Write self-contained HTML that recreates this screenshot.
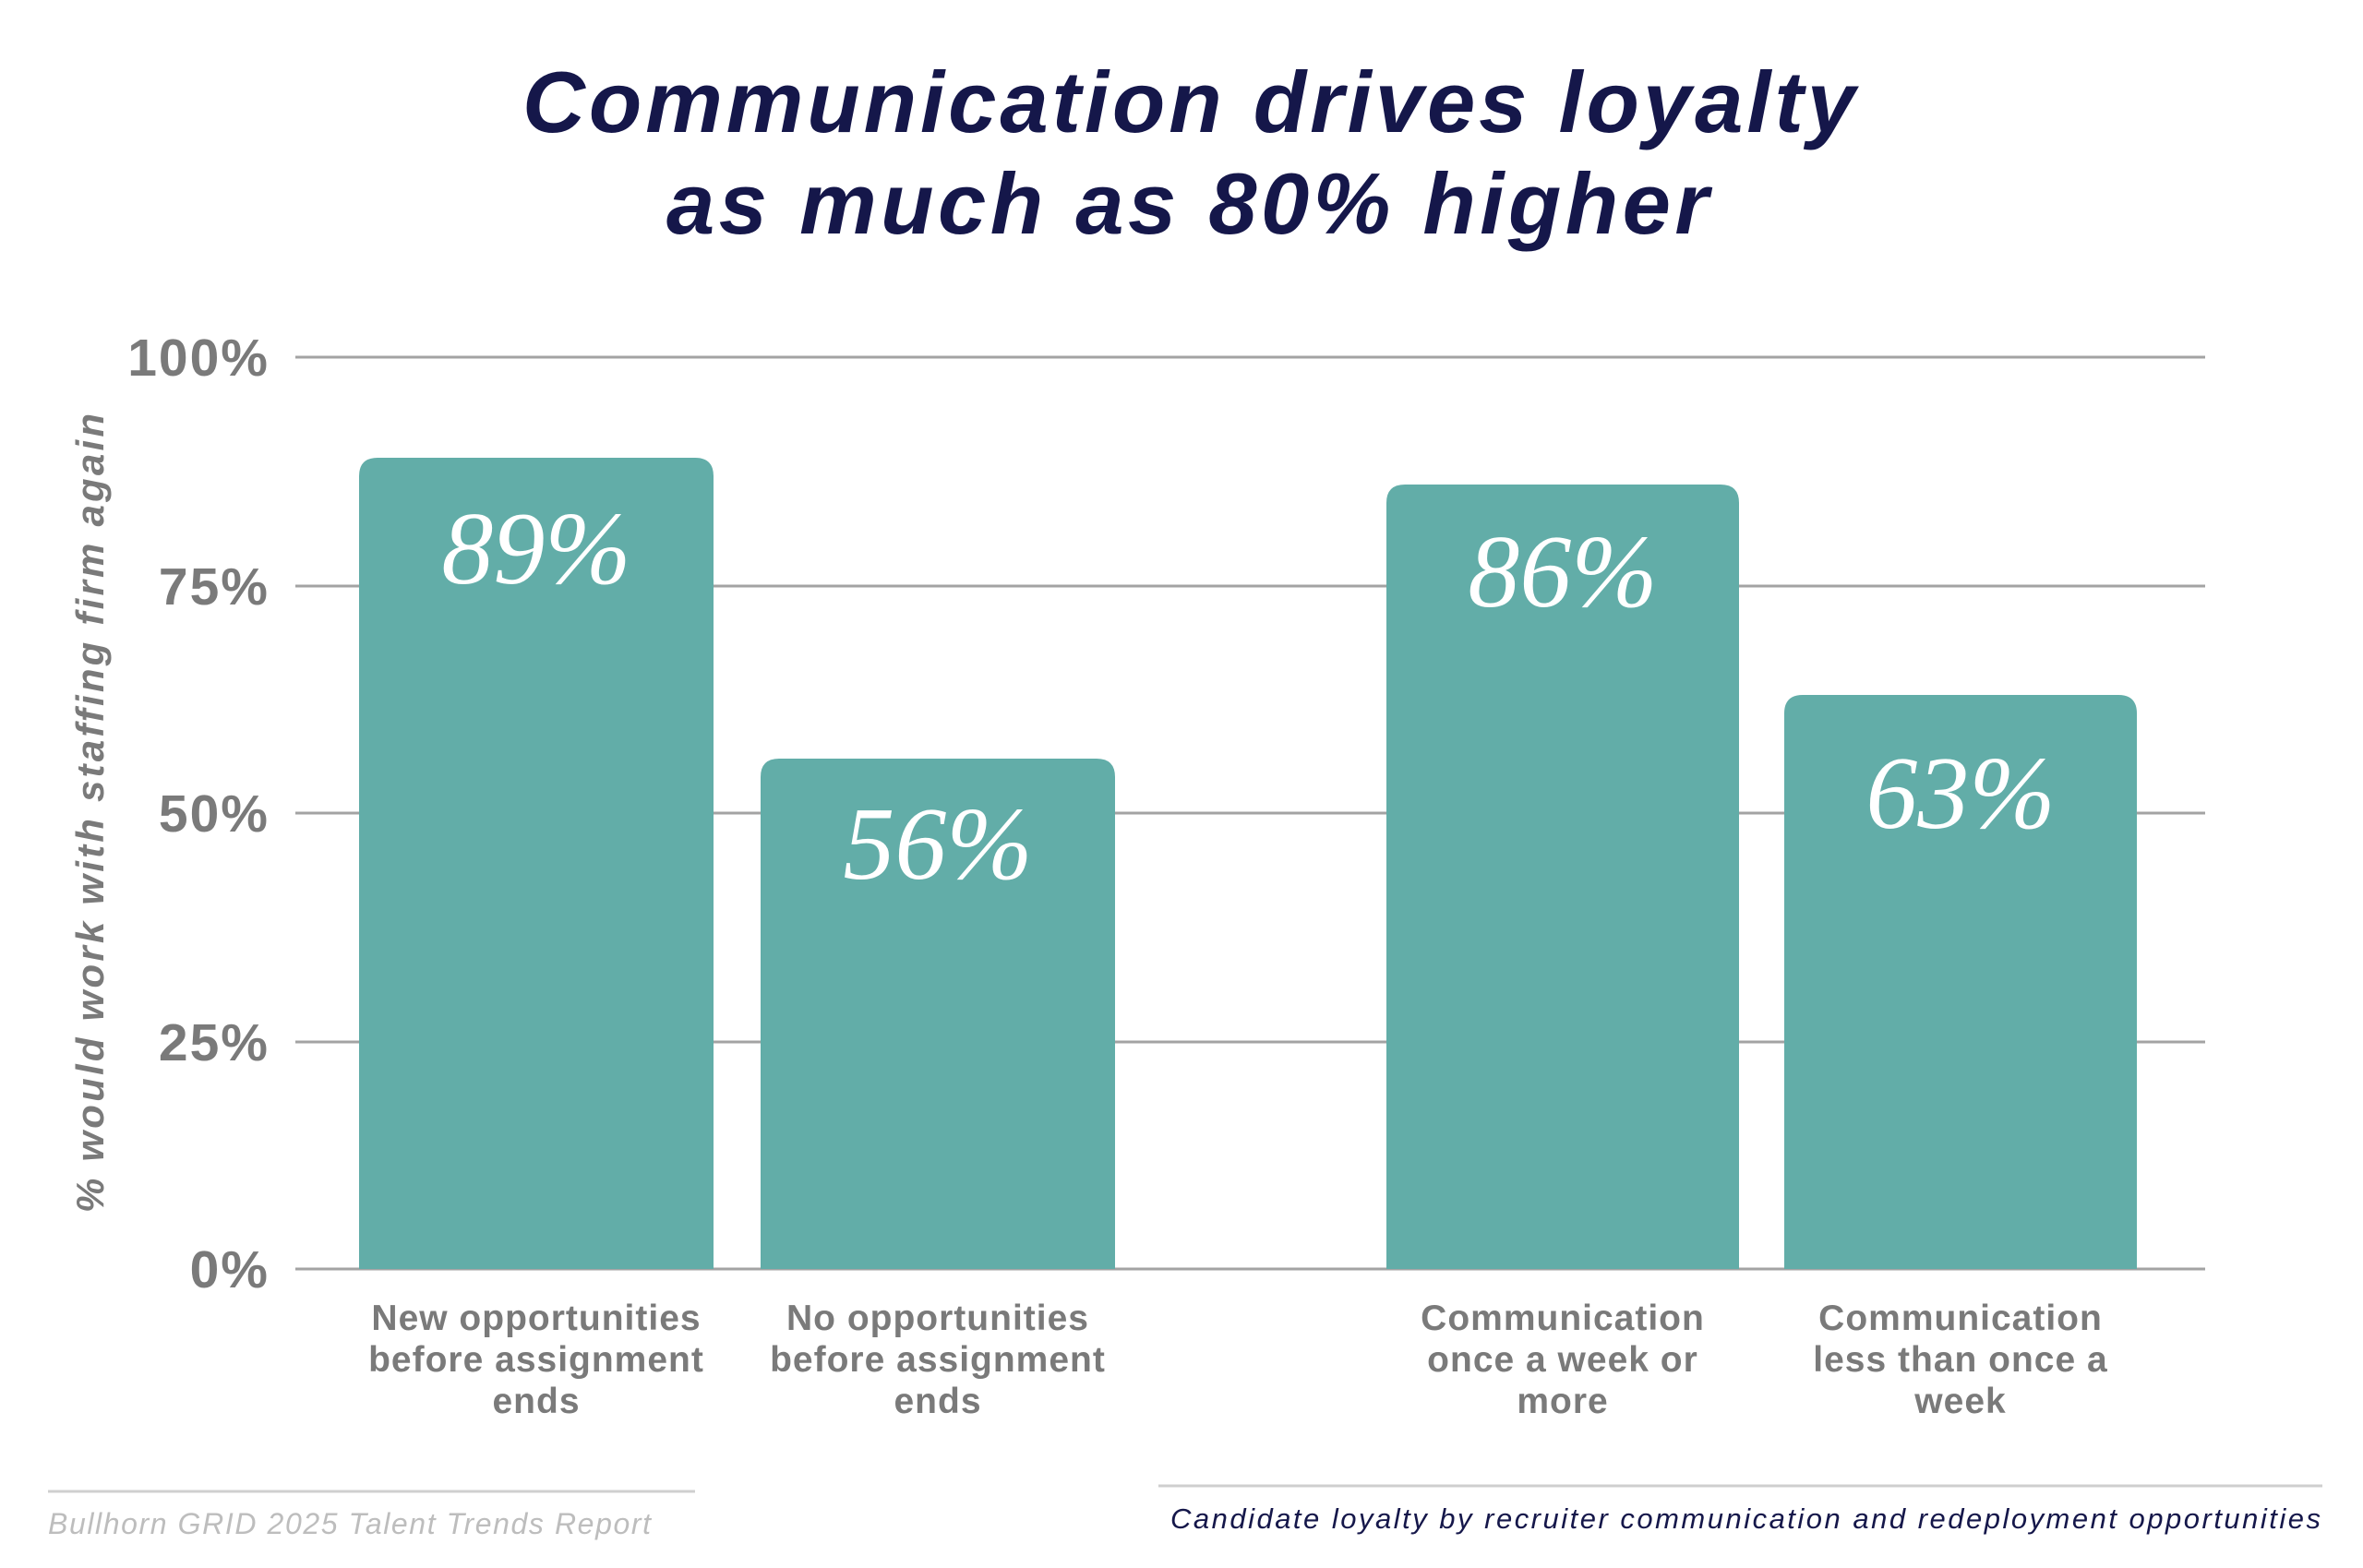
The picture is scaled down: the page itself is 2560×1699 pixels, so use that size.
<!DOCTYPE html>
<html><head><meta charset="utf-8"><style>html,body{margin:0;padding:0;background:#fff}svg{display:block}</style></head>
<body>
<svg width="2560" height="1699" viewBox="0 0 2560 1699" xmlns="http://www.w3.org/2000/svg">
<rect width="2560" height="1699" fill="#fff"/>
<g font-family="Liberation Sans, sans-serif" font-weight="bold" font-style="italic" fill="#15174a" font-size="94">
<text x="566" y="143" textLength="1444" lengthAdjust="spacing">Communication drives loyalty</text>
<text x="722" y="253" textLength="1129" lengthAdjust="spacing">as much as 80% higher</text>
</g>
<g stroke="#a3a3a3" stroke-width="3">
<line x1="320" y1="387" x2="2389" y2="387"/>
<line x1="320" y1="635" x2="2389" y2="635"/>
<line x1="320" y1="881" x2="2389" y2="881"/>
<line x1="320" y1="1129" x2="2389" y2="1129"/>
<line x1="320" y1="1375" x2="2389" y2="1375"/>
</g>
<g font-family="Liberation Sans, sans-serif" font-weight="bold" fill="#7a7a7a" font-size="57" letter-spacing="2" text-anchor="end">
<text x="292" y="407">100%</text>
<text x="292" y="655">75%</text>
<text x="292" y="901">50%</text>
<text x="292" y="1149">25%</text>
<text x="292" y="1395">0%</text>
</g>
<text transform="translate(112,881) rotate(-90)" font-family="Liberation Sans, sans-serif" font-weight="bold" font-style="italic" fill="#7a7a7a" font-size="42" text-anchor="middle" textLength="866" lengthAdjust="spacing">% would work with staffing firm again</text>
<g fill="#62ada8">
<path d="M389 1375 V516 Q389 496 409 496 H753 Q773 496 773 516 V1375 Z"/>
<path d="M824 1375 V842 Q824 822 844 822 H1188 Q1208 822 1208 842 V1375 Z"/>
<path d="M1502 1375 V545 Q1502 525 1522 525 H1864 Q1884 525 1884 545 V1375 Z"/>
<path d="M1933 1375 V773 Q1933 753 1953 753 H2295 Q2315 753 2315 773 V1375 Z"/>
</g>
<g font-family="Liberation Serif, serif" font-style="italic" fill="#fff" font-size="112" text-anchor="middle">
<text x="581" y="632">89%</text>
<text x="1016" y="952">56%</text>
<text x="1693" y="657">86%</text>
<text x="2124" y="897">63%</text>
</g>
<g font-family="Liberation Sans, sans-serif" font-weight="bold" fill="#7a7a7a" font-size="39" letter-spacing="1" text-anchor="middle">
<text x="581" y="1441">New opportunities</text><text x="581" y="1486">before assignment</text><text x="581" y="1531">ends</text>
<text x="1016" y="1441">No opportunities</text><text x="1016" y="1486">before assignment</text><text x="1016" y="1531">ends</text>
<text x="1693" y="1441">Communication</text><text x="1693" y="1486">once a week or</text><text x="1693" y="1531">more</text>
<text x="2124" y="1441">Communication</text><text x="2124" y="1486">less than once a</text><text x="2124" y="1531">week</text>
</g>
<line x1="52" y1="1616" x2="753" y2="1616" stroke="#cfcfcf" stroke-width="3"/>
<line x1="1255" y1="1610" x2="2516" y2="1610" stroke="#cfcfcf" stroke-width="3"/>
<text x="52" y="1662" font-family="Liberation Sans, sans-serif" font-style="italic" fill="#bdbdbd" font-size="32" textLength="653" lengthAdjust="spacing">Bullhorn GRID 2025 Talent Trends Report</text>
<text x="1268" y="1656" font-family="Liberation Sans, sans-serif" font-style="italic" fill="#15174a" font-size="31" textLength="1246" lengthAdjust="spacing">Candidate loyalty by recruiter communication and redeployment opportunities</text>
</svg>
</body></html>
